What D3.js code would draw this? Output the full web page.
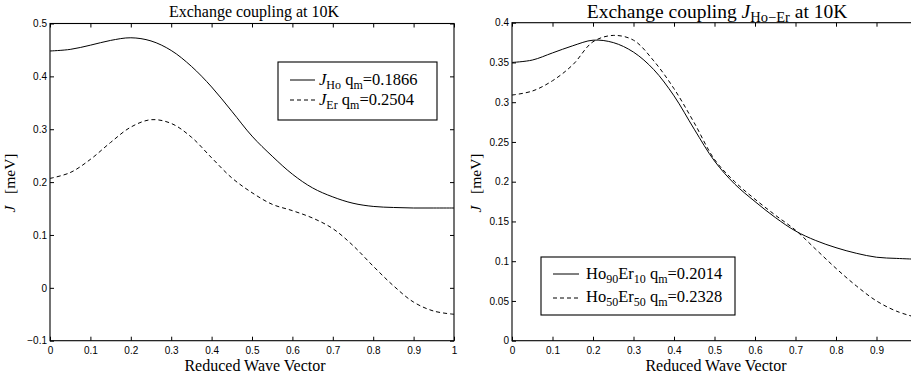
<!DOCTYPE html>
<html><head><meta charset="utf-8">
<script src="https://cdn.jsdelivr.net/npm/d3@7"></script>
<style>body{margin:0;background:#fff} svg{display:block}</style>
</head><body><svg id="c" width="911" height="380"></svg>
<script>
// ---- data ----
const waveVector = [0,0.05,0.1,0.15,0.2,0.25,0.3,0.35,0.4,0.45,0.5,0.55,0.6,0.65,0.7,0.75,0.8,0.85,0.9,0.95,1.0];
const jHo    = [0.448,0.451,0.459,0.468,0.473,0.467,0.449,0.419,0.380,0.334,0.287,0.249,0.215,0.189,0.172,0.160,0.154,0.152,0.151,0.151,0.151];
const jEr    = [0.207,0.218,0.243,0.275,0.304,0.318,0.311,0.285,0.246,0.208,0.180,0.158,0.146,0.132,0.112,0.080,0.041,0.004,-0.027,-0.044,-0.050];
const hoEr90 = [0.350,0.353,0.362,0.371,0.378,0.375,0.363,0.341,0.308,0.266,0.226,0.197,0.175,0.155,0.138,0.126,0.117,0.110,0.105,0.1035,0.1025];
const hoEr50 = [0.309,0.314,0.327,0.347,0.376,0.384,0.378,0.352,0.317,0.274,0.228,0.200,0.178,0.158,0.139,0.115,0.091,0.069,0.050,0.037,0.029];

const xTickValues = [0,0.1,0.2,0.3,0.4,0.5,0.6,0.7,0.8,0.9,1];
const xTickLabels = ["0","0.1","0.2","0.3","0.4","0.5","0.6","0.7","0.8","0.9","1"];
const leftYTickValues = [-0.1,0,0.1,0.2,0.3,0.4,0.5];
const leftYTickLabels = ["\u22120.1","0","0.1","0.2","0.3","0.4","0.5"];
const rightYTickValues = [0,0.05,0.1,0.15,0.2,0.25,0.3,0.35,0.4];
const rightYTickLabels = ["0","0.05","0.1","0.15","0.2","0.25","0.3","0.35","0.4"];

const SERIF = "'Liberation Serif','Times New Roman',serif";
const SANS = "'Liberation Sans',Arial,Helvetica,sans-serif";
const W = 911;

const svg = d3.select("#c");

function panel(cfg){
  const x = d3.scaleLinear().domain([0,1]).range([cfg.left, cfg.right]);
  const y = d3.scaleLinear().domain(cfg.yDomain).range([cfg.bottom, cfg.top]);
  const g = svg.append("g");

  const fmt = (vals, labs) => d => { const i = vals.findIndex(v => Math.abs(v-d) < 1e-9); return i >= 0 ? labs[i] : ""; };

  const ax = (axis, tr, vals, labs, pad, showLabels) => {
    const a = g.append("g").attr("transform", tr)
      .call(axis.tickValues(vals).tickSizeInner(-4).tickSizeOuter(0).tickPadding(pad)
        .tickFormat(showLabels ? fmt(vals, labs) : () => ""));
    a.select(".domain").remove();
    a.selectAll("line").attr("stroke","#000");
    a.selectAll("text").attr("fill","#000").style("font-family", SANS).style("font-size","10px");
    return a;
  };
  // bottom axis: only label ticks that fall inside the picture
  const visX = xTickValues.filter(v => x(v) <= W - 3);
  ax(d3.axisBottom(x), `translate(0,${cfg.bottom})`, visX, xTickLabels, 6, true);
  ax(d3.axisTop(x), `translate(0,${cfg.top})`, visX, xTickLabels, 0, false);
  ax(d3.axisLeft(y), `translate(${cfg.left},0)`, cfg.yTicks, cfg.yLabels, 3, true);
  ax(d3.axisRight(y), `translate(${cfg.right},0)`, cfg.yTicks, cfg.yLabels, 0, false);

  g.append("rect").attr("x", cfg.left).attr("y", cfg.top)
    .attr("width", cfg.right - cfg.left).attr("height", cfg.bottom - cfg.top)
    .attr("fill","none").attr("stroke","#000").attr("stroke-width",1.1);

  const line = d3.line().x((d,i) => x(waveVector[i])).y(d => y(d)).curve(d3.curveCatmullRom.alpha(0.5));
  cfg.series.forEach(s => {
    g.append("path").datum(s.values).attr("d", line)
      .attr("fill","none").attr("stroke","#000").attr("stroke-width",1)
      .attr("stroke-dasharray", s.dash || null);
  });

  // title
  const t = g.append("text").attr("x", cfg.titleX).attr("y", cfg.titleY).attr("text-anchor","middle")
    .style("font-family", SERIF).style("font-size", cfg.titleSize + "px").attr("fill","#000");
  cfg.title(t);

  // x label
  g.append("text").attr("x", cfg.xLabelX).attr("y", 371)
    .attr("text-anchor","middle").style("font-family", SERIF).style("font-size","16px")
    .attr("fill","#000").text("Reduced Wave Vector");

  // y label
  const yl = g.append("text").attr("transform", `translate(${cfg.yLabelX},${cfg.yLabelY}) rotate(-90)`)
    .attr("text-anchor","middle").style("font-family", SERIF).style("font-size","15.5px").attr("fill","#000");
  yl.append("tspan").style("font-style","italic").text("J");
  yl.append("tspan").text("\u00a0\u00a0\u00a0[meV]");

  // legend
  const L = cfg.legend;
  g.append("rect").attr("x", L.x).attr("y", L.y).attr("width", L.w).attr("height", L.h)
    .attr("fill","#fff").attr("stroke","#000").attr("stroke-width",1.1);
  L.items.forEach(it => {
    g.append("line").attr("x1", L.lx1).attr("x2", L.lx2).attr("y1", it.ly).attr("y2", it.ly)
      .attr("stroke","#000").attr("stroke-width",1).attr("stroke-dasharray", it.dash || null);
    const tx = g.append("text").attr("x", L.tx).attr("y", it.ty)
      .style("font-family", SERIF).style("font-size","16.5px").attr("fill","#000");
    it.parts.forEach(p => {
      const sp = tx.append("tspan").text(p.t);
      if (p.sub) sp.attr("dy", 4).style("font-size","12px");
      if (p.after) sp.attr("dy", -4);
      if (p.it) sp.style("font-style","italic");
    });
  });
}

panel({
  left: 50, right: 454, top: 23.5, bottom: 340.7,
  yDomain: [-0.1, 0.5], yTicks: leftYTickValues, yLabels: leftYTickLabels,
  series: [{values: jHo}, {values: jEr, dash: "4,3"}],
  titleX: 254, titleY: 16.5, titleSize: 16,
  title: t => t.text("Exchange coupling at 10K"),
  xLabelX: 255, yLabelX: 15, yLabelY: 183,
  legend: {x: 278, y: 62, w: 159, h: 58, lx1: 290, lx2: 315, tx: 319,
    items: [
      {ly: 80, ty: 85, parts: [{t:"J", it:true},{t:"Ho", sub:true},{t:" q", after:true},{t:"m", sub:true},{t:"=0.1866", after:true}]},
      {ly: 100, ty: 105, dash: "4,3", parts: [{t:"J", it:true},{t:"Er", sub:true},{t:" q", after:true},{t:"m", sub:true},{t:"=0.2504", after:true}]}
    ]}
});

panel({
  left: 512, right: 917, top: 22.7, bottom: 340.7,
  yDomain: [0, 0.4], yTicks: rightYTickValues, yLabels: rightYTickLabels,
  series: [{values: hoEr90}, {values: hoEr50, dash: "4,3"}],
  titleX: 717, titleY: 17.5, titleSize: 19.5,
  title: t => {
    t.append("tspan").text("Exchange coupling ");
    t.append("tspan").style("font-style","italic").text("J");
    t.append("tspan").attr("dy",4).style("font-size","14.5px").text("Ho\u2212Er");
    t.append("tspan").attr("dy",-4).text(" at 10K");
  },
  xLabelX: 716, yLabelX: 481, yLabelY: 183,
  legend: {x: 541, y: 257, w: 194, h: 58, lx1: 553, lx2: 579, tx: 586,
    items: [
      {ly: 274, ty: 279, parts: [{t:"Ho"},{t:"90", sub:true},{t:"Er", after:true},{t:"10", sub:true},{t:" q", after:true},{t:"m", sub:true},{t:"=0.2014", after:true}]},
      {ly: 298, ty: 302, dash: "4,3", parts: [{t:"Ho"},{t:"50", sub:true},{t:"Er", after:true},{t:"50", sub:true},{t:" q", after:true},{t:"m", sub:true},{t:"=0.2328", after:true}]}
    ]}
});
</script></body></html>
